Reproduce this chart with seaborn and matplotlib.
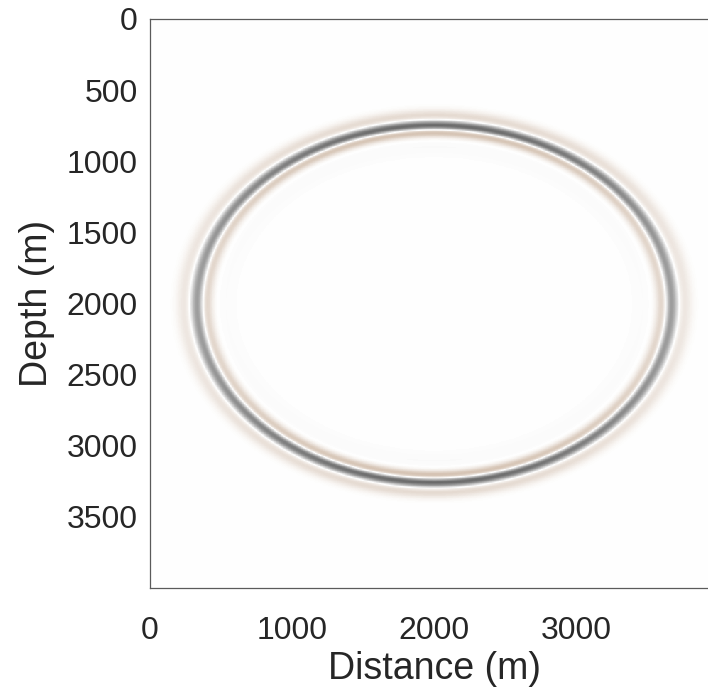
import numpy as np
import pandas as pd
import matplotlib
matplotlib.use("Agg")
import matplotlib.pyplot as plt
from matplotlib.colors import LinearSegmentedColormap
import seaborn as sns

# Model grid (m)
distance = np.arange(0, 4000, 5.0)
depth = np.arange(0, 4000, 5.0)

# Source position and wavefront semi-axes of the snapshot (m)
source_x, source_z = 2000.0, 2000.0
front_radius_x, front_radius_z = 1670.0, 1255.0

# Wavelet shape: zero-crossing half width (m), lobe weights, tail
zero_cross = 32.0
inner_lobe_weight = 1.0
outer_lobe_weight = 0.6
outer_stretch = 1.3
tail_amp, tail_offset, tail_width = 0.035, -150.0, 70.0
amp_horizontal, amp_vertical = 0.45, 0.68

x_ticks = [0, 1000, 2000, 3000]
z_ticks = [0, 500, 1000, 1500, 2000, 2500, 3000, 3500]

sns.set_style("white")
plt.rcParams["font.family"] = ["Liberation Sans", "DejaVu Sans"]


def ricker(s):
    k = 1.0 / (zero_cross * np.sqrt(2.0))
    a = (k * s) ** 2
    return (1 - 2 * a) * np.exp(-a)


X, Z = np.meshgrid(distance, depth)
u = (X - source_x) / front_radius_x
v = (Z - source_z) / front_radius_z
r = np.sqrt(u ** 2 + v ** 2)
s = (r - 1.0) * front_radius_z
sin2 = v ** 2 / np.maximum(u ** 2 + v ** 2, 1e-9)
amp = amp_horizontal + (amp_vertical - amp_horizontal) * sin2

w_in = ricker(s)
w_in = np.where(w_in < 0, w_in * inner_lobe_weight, w_in)
w_out = ricker(s / outer_stretch)
w_out = np.where(w_out < 0, w_out * outer_lobe_weight, w_out)
wave = np.where(s <= 0, w_in, w_out)
wave = wave + tail_amp * np.exp(-((s - tail_offset) / tail_width) ** 2)
wave = wave * amp

field = pd.DataFrame(wave, index=depth, columns=distance)

cmap = LinearSegmentedColormap.from_list(
    "brown_gray",
    [(0.0, (0.45, 0.22, 0.02)), (0.5, (1, 1, 1)), (1.0, (0.15, 0.15, 0.15))],
)

fig = plt.figure(figsize=(7.08, 6.92), dpi=100)
ax = fig.add_axes([150 / 708, 104 / 692, 568 / 708, 569 / 692])
sns.heatmap(field, ax=ax, cmap=cmap, vmin=-1, vmax=1, cbar=False,
            xticklabels=False, yticklabels=False, rasterized=True)

dx = distance[1] - distance[0]
ax.set_xticks([t / dx for t in x_ticks])
ax.set_xticklabels([str(t) for t in x_ticks])
ax.set_yticks([t / dx for t in z_ticks])
ax.set_yticklabels([str(t) for t in z_ticks], rotation=0)
ax.set_xlim(0, len(distance))
ax.set_ylim(len(depth), 0)

for side in ["left", "bottom", "top", "right"]:
    ax.spines[side].set_visible(True)
    ax.spines[side].set_color("#5a5a5a")
    ax.spines[side].set_linewidth(0.9)

ax.tick_params(axis="both", direction="in", length=4, width=0.9,
               color="#5a5a5a", labelsize=23, labelcolor="#262626")
ax.tick_params(axis="x", pad=20)
ax.tick_params(axis="y", pad=9)

ax.set_xlabel("Distance (m)", fontsize=27, color="#262626", labelpad=4)
ax.set_ylabel("Depth (m)", fontsize=27, color="#262626", labelpad=8)

fig.savefig("out.png", dpi=100)
